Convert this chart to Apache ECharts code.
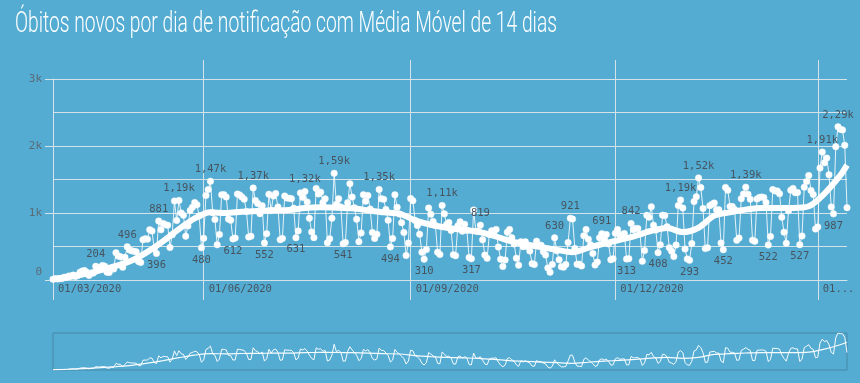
<!DOCTYPE html>
<html><head><meta charset="utf-8">
<script src="https://cdn.jsdelivr.net/npm/echarts@6/dist/echarts.min.js"></script>
<style>html,body{margin:0;padding:0;background:#54acd3;}#c{width:860px;height:383px;}</style>
</head><body><div id="c"></div>
<script>
// ---------- DATA ----------
const primeiroDia = '2020-03-26';
const titulo = 'Óbitos novos por dia de notificação com Média Móvel de 14 dias';

const obitos_2020_03 = [11, 20, 15, 22, 22, 42];
const obitos_2020_04 = [40, 58, 60, 73, 54, 67, 114, 133, 141, 115, 68, 99, 105, 204, 188, 188, 217, 206, 115, 113, 166, 165, 407, 357, 346, 189, 338, 496, 449, 435];
const obitos_2020_05 = [428, 421, 275, 263, 600, 615, 610, 751, 730, 467, 396, 881, 749, 844, 824, 816, 485, 674, 1179, 888, 1188, 1001, 965, 653, 807, 1039, 1086, 1156, 1124, 956, 480];
const obitos_2020_06 = [623, 1262, 1349, 1473, 1005, 904, 525, 679, 1272, 1274, 1239, 909, 892, 612, 627, 1282, 1269, 1238, 1206, 1022, 641, 654, 1374, 1185, 1141, 990, 1109, 552, 692, 1280];
const obitos_2020_07 = [1038, 1252, 1290, 1091, 602, 620, 1254, 1223, 1220, 1214, 1071, 631, 733, 1300, 1233, 1322, 1163, 921, 716, 632, 1367, 1284, 1311, 1156, 1211, 555, 614, 921, 1592, 1129, 1212];
const obitos_2020_08 = [1088, 541, 561, 1154, 1437, 1237, 1079, 905, 572, 703, 1274, 1175, 1262, 1060, 709, 620, 684, 1352, 1212, 1204, 1054, 892, 494, 620, 1271, 1085, 984, 855, 709, 366, 553];
const obitos_2020_09 = [1215, 1184, 888, 814, 682, 415, 310, 454, 1075, 983, 874, 814, 415, 381, 1113, 987, 829, 858, 739, 377, 363, 809, 869, 729, 831, 741, 335, 317, 1045, 729];
const obitos_2020_10 = [728, 819, 599, 372, 323, 678, 734, 730, 754, 491, 309, 201, 299, 713, 754, 631, 539, 325, 221, 571, 497, 571, 496, 432, 244, 231, 580, 510, 519, 423, 372];
const obitos_2020_11 = [179, 115, 232, 630, 436, 301, 199, 192, 230, 560, 921, 910, 471, 235, 236, 209, 660, 754, 609, 525, 396, 223, 267, 630, 691, 614, 678, 539, 302, 317];
const obitos_2020_12 = [697, 755, 668, 678, 694, 313, 318, 842, 750, 770, 770, 686, 279, 439, 965, 936, 1092, 818, 746, 408, 525, 968, 961, 796, 483, 430, 350, 521, 1111, 1194, 1074];
const obitos_2021_01 = [462, 314, 293, 543, 1171, 1242, 1524, 1379, 1069, 469, 480, 1110, 1131, 1151, 1050, 1050, 551, 452, 1382, 1340, 1096, 1096, 1053, 592, 627, 1214, 1283, 1386, 1279, 1206, 595];
const obitos_2021_02 = [577, 1209, 1232, 1239, 1232, 1157, 522, 650, 1350, 1330, 1330, 1288, 936, 713, 548, 1033, 1341, 1367, 1303, 1306, 527, 657, 1386, 1470, 1560, 1337, 1275, 760];
const obitos_2021_03 = [790, 1670, 1910, 1750, 1820, 1570, 1090, 987, 1990, 2286, 2250, 2240, 2010, 1080];

// 14-day moving average read every 7 days from the first day, plus the last day
const mediaMovelSemanal = [15, 45, 90, 145, 210, 290, 420, 580, 760, 920, 1010, 1000, 1020, 1030, 1040, 1045, 1075, 1085, 1080, 1070, 1040, 1010, 990, 890, 825, 780, 750, 720, 660, 585, 535, 490, 450, 415, 480, 545, 600, 660, 735, 775, 715, 780, 960, 1010, 1050, 1075, 1075, 1075, 1100, 1290, 1560];
const mediaMovelUltimoDia = 1715;

// labelled points
const rotulosAcima = ['2020-04-14','2020-04-28','2020-05-12','2020-05-21','2020-06-04','2020-06-23','2020-07-16','2020-07-29','2020-08-18','2020-09-15','2020-10-02','2020-11-04','2020-11-11','2020-11-25','2020-12-08','2020-12-30','2021-01-07','2021-01-28','2021-03-03','2021-03-10'];
const rotulosAbaixo = ['2020-05-11','2020-05-31','2020-06-14','2020-06-28','2020-07-12','2020-08-02','2020-08-23','2020-09-07','2020-09-28','2020-12-06','2020-12-20','2021-01-03','2021-01-18','2021-02-07','2021-02-21','2021-03-08'];

// x-axis ticks
const ticksDatas = ['2020-03-26','2020-06-01','2020-09-01','2020-12-01','2021-03-01'];
const ticksRotulos = ['01/03/2020','01/06/2020','01/09/2020','01/12/2020','01/03/2021'];

// ---------- BUILD ----------
const obitos = [].concat(obitos_2020_03, obitos_2020_04, obitos_2020_05, obitos_2020_06, obitos_2020_07, obitos_2020_08, obitos_2020_09, obitos_2020_10, obitos_2020_11, obitos_2020_12, obitos_2021_01, obitos_2021_02, obitos_2021_03);
const datas = [];
{
  const d0 = new Date(primeiroDia + 'T00:00:00Z');
  for (let i = 0; i < obitos.length; i++) {
    const d = new Date(d0.getTime() + i * 86400000);
    datas.push(d.toISOString().slice(0, 10));
  }
}
const mediaMovel = datas.map(() => null);
mediaMovelSemanal.forEach((v, k) => { mediaMovel[k * 7] = v; });
mediaMovel[datas.length - 1] = mediaMovelUltimoDia;

const tickIdx = {};
ticksDatas.forEach((d, k) => { tickIdx[datas.indexOf(d)] = ticksRotulos[k]; });
const lastTick = datas.indexOf(ticksDatas[ticksDatas.length - 1]);

const fmtK = v => v >= 1000 ? (v / 1000).toFixed(2).replace('.', ',') + 'k' : String(v);

const txtColor = '#46545e';
const gridColor = '#d6e2e9';
const mono = '"DejaVu Sans Mono", monospace';

const serieData = obitos.map((v, i) => {
  const d = datas[i];
  if (rotulosAcima.includes(d)) return { value: v, label: { show: true, position: 'top', distance: 3 } };
  if (rotulosAbaixo.includes(d)) return { value: v, label: { show: true, position: 'bottom', distance: 3 } };
  return v;
});

const chart = echarts.init(document.getElementById('c'), null, { renderer: 'canvas' });

// title scaling (condensed look)
const titleFont = '300 30px Roboto';
let titleScale = 1;
{
  const cv = document.createElement('canvas').getContext('2d');
  cv.font = titleFont;
  const w = cv.measureText(titulo).width;
  titleScale = 542 / w;
}

const option = {
  backgroundColor: '#54acd3',
  animation: false,
  graphic: [{
    type: 'text', x: 15, y: 24, scaleX: titleScale,
    style: { text: titulo, font: titleFont, fill: '#ffffff', verticalAlign: 'middle', align: 'left' }
  }],
  grid: [
    { left: 53, right: 13, top: 79, bottom: 103, containLabel: false },
    { left: 53, right: 13, top: 333, height: 37, show: true, borderColor: '#4788a8', borderWidth: 1, backgroundColor: 'transparent' }
  ],
  xAxis: [
    {
      type: 'category', data: datas, boundaryGap: false, gridIndex: 0,
      axisLine: { show: true, lineStyle: { color: gridColor } },
      axisTick: { show: true, length: 20, interval: (i) => tickIdx[i] !== undefined, lineStyle: { color: gridColor } },
      splitLine: { show: true, interval: (i) => tickIdx[i] !== undefined, lineStyle: { color: gridColor } },
      axisLabel: {
        show: true, interval: (i) => tickIdx[i] !== undefined, align: 'left', margin: 4,
        padding: [0, 0, 0, 5], color: txtColor, fontFamily: mono, fontSize: 10.5,
        formatter: (val, i) => {
          const idx = datas.indexOf(val);
          const t = tickIdx[idx] || '';
          if (idx === lastTick) return echarts.format.truncateText(t, 38, '10.5px "DejaVu Sans Mono"', '...');
          return t;
        }
      }
    },
    {
      type: 'category', data: datas, boundaryGap: false, gridIndex: 0, position: 'top',
      axisLine: { show: false },
      axisTick: { show: true, length: 19, interval: (i) => i > 0 && tickIdx[i] !== undefined, lineStyle: { color: gridColor } },
      axisLabel: { show: false }, splitLine: { show: false }
    },
    {
      type: 'category', data: datas, boundaryGap: false, gridIndex: 1,
      axisLine: { show: false }, axisTick: { show: false }, axisLabel: { show: false }, splitLine: { show: false }
    }
  ],
  yAxis: [
    {
      type: 'value', min: 0, max: 3000, interval: 1000, gridIndex: 0,
      axisLine: { show: true, lineStyle: { color: gridColor } },
      axisTick: { show: true, length: 8, lineStyle: { color: gridColor } },
      axisLabel: {
        margin: 11, color: '#5b6b75', fontFamily: mono, fontSize: 11,
        formatter: v => v === 0 ? '{z|0}' : (v / 1000) + 'k',
        rich: { z: { padding: [0, 0, 16, 0], color: '#5b6b75', fontFamily: mono, fontSize: 11 } }
      },
      splitLine: { show: true, lineStyle: { color: gridColor } },
      minorTick: { show: false, splitNumber: 2 },
      minorSplitLine: { show: true, lineStyle: { color: gridColor } }
    },
    {
      type: 'value', min: 0, max: 'dataMax', gridIndex: 1,
      axisLine: { show: false }, axisTick: { show: false }, axisLabel: { show: false }, splitLine: { show: false }
    }
  ],
  series: [
    {
      name: 'Óbitos', type: 'line', xAxisIndex: 0, yAxisIndex: 0, data: serieData,
      symbol: 'circle', symbolSize: 6.5, showAllSymbol: true,
      lineStyle: { color: 'rgba(255,255,255,0.85)', width: 1 },
      itemStyle: { color: '#ffffff', borderColor: '#f0f4f6', borderWidth: 0.5 },
      label: { show: false, color: txtColor, fontFamily: mono, fontSize: 10.5, formatter: p => fmtK(p.value) },
      z: 2
    },
    {
      name: 'Média Móvel', type: 'line', xAxisIndex: 0, yAxisIndex: 0, data: mediaMovel,
      connectNulls: true, smooth: 0.3, symbol: 'none',
      lineStyle: { color: '#ffffff', width: 6 },
      z: 3
    },
    {
      type: 'line', xAxisIndex: 2, yAxisIndex: 1, data: obitos, symbol: 'none',
      lineStyle: { color: 'rgba(255,255,255,0.95)', width: 1 }, silent: true
    },
    {
      type: 'line', xAxisIndex: 2, yAxisIndex: 1, data: mediaMovel, connectNulls: true, smooth: 0.3, symbol: 'none',
      lineStyle: { color: 'rgba(255,255,255,0.95)', width: 1.2 }, silent: true
    }
  ]
};
chart.setOption(option);
</script>
</body></html>
